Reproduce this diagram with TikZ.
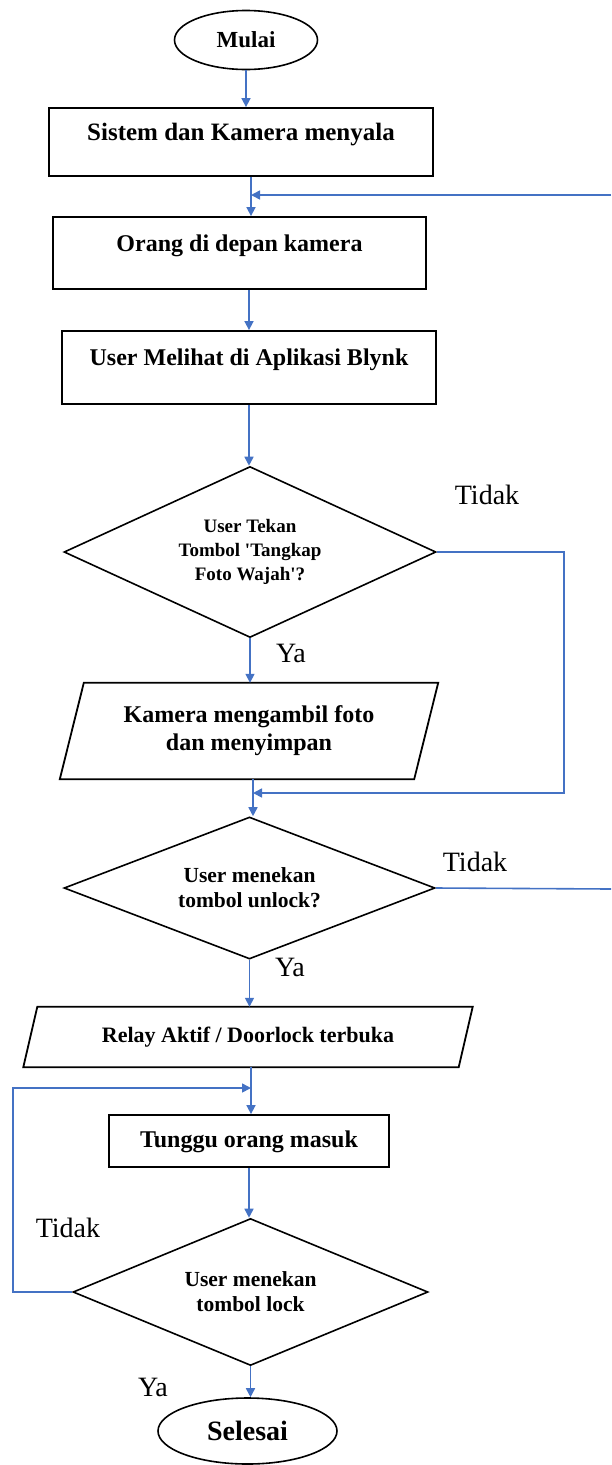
\documentclass[tikz,border=0pt]{standalone}
\usepackage{fontspec}
\setmainfont{Liberation Serif}
\usetikzlibrary{arrows.meta,shapes.geometric,calc}
\definecolor{flowblue}{RGB}{68,114,196}
\tikzset{
	box/.style={draw, line width=1.8pt, inner sep=0pt,
			font=\fontsize{24}{28}\selectfont\bfseries,
			text height=16pt, text depth=20pt},
	terminal/.style={draw, ellipse, line width=1.6pt, inner sep=0pt},
	decision/.style={draw, diamond, line width=1.6pt, inner sep=0pt, align=center},
	io/.style={inner sep=0pt, align=center},
	ioline/.style={line width=1.8pt, line join=miter},
	flow/.style={->, draw=flowblue, line width=1.6pt},
	link/.style={draw=flowblue, line width=1.6pt},
	answer/.style={inner sep=0pt, font=\fontsize{28}{32}\selectfont}
}

\begin{document}
\begin{tikzpicture}[x=1pt, y=-1pt, >={Triangle[length=9pt,width=9pt]}]
	\useasboundingbox (0,0) rectangle (611,1465);

	% steps of the flowchart
	\node[terminal, minimum width=143pt, minimum height=59pt,
		font=\fontsize{23}{26}\selectfont\bfseries] (mulai) at (246,40) {Mulai};
	\node[box, minimum width=384pt, minimum height=68pt,
		font=\fontsize{25}{28}\selectfont\bfseries] (sistem) at (241,142) {Sistem dan Kamera menyala};
	\node[box, minimum width=373pt, minimum height=72pt] (orang) at (239.5,253) {Orang di depan kamera};
	\node[box, minimum width=374pt, minimum height=73pt] (blynk) at (249,367.5) {User Melihat di Aplikasi Blynk};
	\node[decision, minimum width=372pt, minimum height=171pt, aspect=2.2,
		font=\fontsize{19}{24}\selectfont\bfseries] (tangkap) at (250,552)
		{User Tekan\\Tombol \textquotesingle Tangkap\\Foto Wajah\textquotesingle ?};
	\node[io, minimum width=354pt, minimum height=96pt,
		font=\fontsize{24}{28}\selectfont\bfseries] (foto) at (249,731)
		{Kamera mengambil foto\\dan menyimpan};
	\draw[ioline] ([xshift=-12pt]foto.south west) -- ([xshift=-12pt]foto.south east)
		-- ([xshift=12pt]foto.north east) -- ([xshift=12pt]foto.north west) -- cycle;
	\node[decision, minimum width=371pt, minimum height=142pt, aspect=2.6,
		font=\fontsize{21.5}{25}\selectfont\bfseries] (unlock) at (249.5,888)
		{User menekan\\tombol unlock?};
	\node[io, minimum width=435pt, minimum height=60pt,
		font=\fontsize{22}{26}\selectfont\bfseries] (relay) at (248,1037)
		{Relay Aktif / Doorlock terbuka};
	\draw[ioline] ([xshift=-7pt]relay.south west) -- ([xshift=-7pt]relay.south east)
		-- ([xshift=7pt]relay.north east) -- ([xshift=7pt]relay.north west) -- cycle;
	\node[box, minimum width=280pt, minimum height=52pt,
		text height=17pt, text depth=5pt] (tunggu) at (249,1141) {Tunggu orang masuk};
	\node[decision, minimum width=355pt, minimum height=147pt, aspect=2.4,
		font=\fontsize{21.5}{25}\selectfont\bfseries] (lock) at (250.5,1292)
		{User menekan\\tombol lock};
	\node[terminal, minimum width=179pt, minimum height=66pt,
		font=\fontsize{28}{32}\selectfont\bfseries] (selesai) at (247.5,1431) {Selesai};

	% joins and loose ends
	\coordinate (j1) at (251,195);
	\coordinate (back) at (611,195);
	\coordinate (j2) at (253,793);
	\coordinate (exit) at (611,889);
	\coordinate (j3) at (251,1088);

	\draw[flow] (mulai) -- (mulai |- sistem.north);
	\draw[flow] (sistem.south -| j1) -- (orang.north -| j1);
	\draw[flow] (back) -- (j1);
	\draw[flow] (orang.south -| blynk) -- (blynk.north);
	\draw[flow] (blynk.south) -- (blynk.south |- tangkap.north);
	\draw[flow] (tangkap.south) -- (tangkap.south |- foto.north);
	\draw[flow] (tangkap.east) -- ++(127,0) |- (j2);
	\draw[flow] (foto.south -| j2) -- (unlock.north -| j2);
	\draw[link] (unlock.east) -- (exit);
	\draw[flow] (unlock.south) -- (unlock.south |- relay.north);
	\draw[flow] (relay.south -| j3) -- (tunggu.north -| j3);
	\draw[flow] (lock.west) -- ++(-59,0) |- (j3);
	\draw[flow] (tunggu.south) -- (tunggu.south |- lock.north);
	\draw[flow] (lock.south) -- (lock.south |- selesai.north);

	% branch labels
	\node[answer] (tidak1) at (487,495) {Tidak};
	\node[answer] (ya1) at (291,653) {Ya};
	\node[answer] (tidak2) at (475,862) {Tidak};
	\node[answer] (ya2) at (290,967) {Ya};
	\node[answer] (tidak3) at (68,1228) {Tidak};
	\node[answer] (ya3) at (153,1387) {Ya};
\end{tikzpicture}
\end{document}
